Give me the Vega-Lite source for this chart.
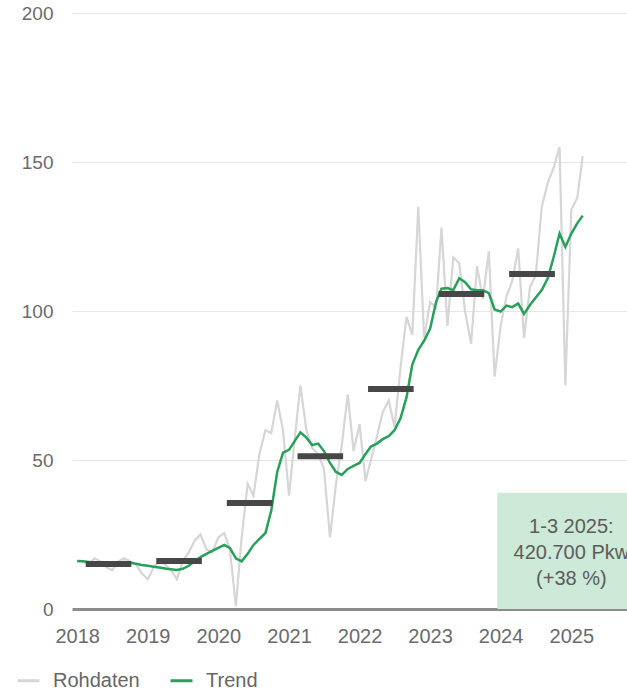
{
  "$schema": "https://vega.github.io/schema/vega-lite/v6.json",
  "width": 555,
  "height": 596,
  "autosize": {"type": "none"},
  "padding": {"left": 72, "top": 13, "right": 0, "bottom": 83},
  "background": "white",
  "config": {
    "view": {"stroke": null},
    "font": "Liberation Sans",
    "axis": {"labelFont": "Liberation Sans", "labelFontSize": 19, "labelColor": "#6b6b6b", "ticks": false, "title": null},
    "axisX": {"domainColor": "#8c8c8c", "domainWidth": 3, "grid": false, "labelPadding": 17, "labelFontSize": 20, "zindex": 1},
    "axisY": {"domain": false, "gridColor": "#e6e6e6", "gridWidth": 1, "labelPadding": 19}
  },
  "datasets": {
    "monthly": [
      {"month": "2018-01-01", "raw": 16, "trend": 16.1},
      {"month": "2018-02-01", "raw": 16, "trend": 16.0},
      {"month": "2018-03-01", "raw": 15, "trend": 15.8},
      {"month": "2018-04-01", "raw": 17, "trend": 15.6},
      {"month": "2018-05-01", "raw": 16, "trend": 15.5},
      {"month": "2018-06-01", "raw": 14, "trend": 15.6},
      {"month": "2018-07-01", "raw": 13, "trend": 15.5},
      {"month": "2018-08-01", "raw": 16, "trend": 15.6},
      {"month": "2018-09-01", "raw": 17, "trend": 15.8},
      {"month": "2018-10-01", "raw": 16, "trend": 15.5},
      {"month": "2018-11-01", "raw": 15, "trend": 15.2},
      {"month": "2018-12-01", "raw": 12, "trend": 14.8},
      {"month": "2019-01-01", "raw": 10, "trend": 14.5},
      {"month": "2019-02-01", "raw": 14, "trend": 14.2},
      {"month": "2019-03-01", "raw": 16, "trend": 13.9},
      {"month": "2019-04-01", "raw": 15, "trend": 13.6},
      {"month": "2019-05-01", "raw": 13, "trend": 13.3},
      {"month": "2019-06-01", "raw": 10, "trend": 13.1},
      {"month": "2019-07-01", "raw": 16, "trend": 13.5},
      {"month": "2019-08-01", "raw": 19, "trend": 14.5},
      {"month": "2019-09-01", "raw": 23, "trend": 16},
      {"month": "2019-10-01", "raw": 25, "trend": 17.4},
      {"month": "2019-11-01", "raw": 20, "trend": 18.5},
      {"month": "2019-12-01", "raw": 19, "trend": 19.5},
      {"month": "2020-01-01", "raw": 24, "trend": 20.5},
      {"month": "2020-02-01", "raw": 25.5, "trend": 21.5},
      {"month": "2020-03-01", "raw": 20, "trend": 20.5},
      {"month": "2020-04-01", "raw": 1, "trend": 17},
      {"month": "2020-05-01", "raw": 24, "trend": 16},
      {"month": "2020-06-01", "raw": 42, "trend": 18.5},
      {"month": "2020-07-01", "raw": 38, "trend": 21.5},
      {"month": "2020-08-01", "raw": 52, "trend": 23.5},
      {"month": "2020-09-01", "raw": 60, "trend": 25.5},
      {"month": "2020-10-01", "raw": 59, "trend": 33},
      {"month": "2020-11-01", "raw": 70, "trend": 46},
      {"month": "2020-12-01", "raw": 60, "trend": 52.5},
      {"month": "2021-01-01", "raw": 38, "trend": 53.4},
      {"month": "2021-02-01", "raw": 58, "trend": 56.5},
      {"month": "2021-03-01", "raw": 75, "trend": 59.3},
      {"month": "2021-04-01", "raw": 60, "trend": 57.5},
      {"month": "2021-05-01", "raw": 54, "trend": 55},
      {"month": "2021-06-01", "raw": 52, "trend": 55.5},
      {"month": "2021-07-01", "raw": 47, "trend": 53},
      {"month": "2021-08-01", "raw": 24, "trend": 49},
      {"month": "2021-09-01", "raw": 42, "trend": 46},
      {"month": "2021-10-01", "raw": 55, "trend": 45},
      {"month": "2021-11-01", "raw": 72, "trend": 47},
      {"month": "2021-12-01", "raw": 53, "trend": 48},
      {"month": "2022-01-01", "raw": 62, "trend": 49},
      {"month": "2022-02-01", "raw": 43, "trend": 52},
      {"month": "2022-03-01", "raw": 50, "trend": 54.5},
      {"month": "2022-04-01", "raw": 58, "trend": 55.5},
      {"month": "2022-05-01", "raw": 66, "trend": 57},
      {"month": "2022-06-01", "raw": 70, "trend": 58},
      {"month": "2022-07-01", "raw": 61, "trend": 60},
      {"month": "2022-08-01", "raw": 81, "trend": 64},
      {"month": "2022-09-01", "raw": 98, "trend": 71},
      {"month": "2022-10-01", "raw": 92, "trend": 82},
      {"month": "2022-11-01", "raw": 135, "trend": 87},
      {"month": "2022-12-01", "raw": 91, "trend": 90},
      {"month": "2023-01-01", "raw": 103, "trend": 94},
      {"month": "2023-02-01", "raw": 101, "trend": 103},
      {"month": "2023-03-01", "raw": 128, "trend": 107.5},
      {"month": "2023-04-01", "raw": 95, "trend": 107.7},
      {"month": "2023-05-01", "raw": 118, "trend": 107},
      {"month": "2023-06-01", "raw": 116, "trend": 111},
      {"month": "2023-07-01", "raw": 100, "trend": 109.7},
      {"month": "2023-08-01", "raw": 89, "trend": 107.3},
      {"month": "2023-09-01", "raw": 115, "trend": 107},
      {"month": "2023-10-01", "raw": 104, "trend": 107},
      {"month": "2023-11-01", "raw": 120, "trend": 106},
      {"month": "2023-12-01", "raw": 78, "trend": 100.5},
      {"month": "2024-01-01", "raw": 95, "trend": 99.8},
      {"month": "2024-02-01", "raw": 105, "trend": 101.8},
      {"month": "2024-03-01", "raw": 110, "trend": 101.3},
      {"month": "2024-04-01", "raw": 121, "trend": 102.5},
      {"month": "2024-05-01", "raw": 91, "trend": 99},
      {"month": "2024-06-01", "raw": 108, "trend": 102},
      {"month": "2024-07-01", "raw": 112, "trend": 104.5},
      {"month": "2024-08-01", "raw": 135, "trend": 107},
      {"month": "2024-09-01", "raw": 143, "trend": 111},
      {"month": "2024-10-01", "raw": 148, "trend": 118},
      {"month": "2024-11-01", "raw": 155, "trend": 126},
      {"month": "2024-12-01", "raw": 75, "trend": 121.5},
      {"month": "2025-01-01", "raw": 134, "trend": 126},
      {"month": "2025-02-01", "raw": 138, "trend": 129.5},
      {"month": "2025-03-01", "raw": 152, "trend": 132}
    ],
    "yearly": [
      {"year": 2018, "start": "2018-02-14", "end": "2018-10-08", "avg": 15.1},
      {"year": 2019, "start": "2019-02-14", "end": "2019-10-08", "avg": 16.1},
      {"year": 2020, "start": "2020-02-14", "end": "2020-10-08", "avg": 35.6},
      {"year": 2021, "start": "2021-02-14", "end": "2021-10-08", "avg": 51.3},
      {"year": 2022, "start": "2022-02-14", "end": "2022-10-08", "avg": 73.8},
      {"year": 2023, "start": "2023-02-14", "end": "2023-10-08", "avg": 105.7},
      {"year": 2024, "start": "2024-02-14", "end": "2024-10-08", "avg": 112.4}
    ],
    "note": [
      {"from": "2023-12-15", "to": "2026-12-31", "top": 39, "mid": "2025-01-01", "labelY": 27.5, "label": ["1-3 2025:", "420.700 Pkw", "(+38 %)"]}
    ]
  },
  "layer": [
    {
      "data": {"name": "note"},
      "mark": {"type": "rect", "color": "#cde9d7", "clip": true},
      "encoding": {
        "x": {"field": "from", "type": "temporal", "scale": {"type": "utc", "domain": [{"year": 2017, "month": 12, "date": 5, "utc": true}, {"year": 2025, "month": 10, "date": 16, "utc": true}]}},
        "x2": {"field": "to"},
        "y": {"field": "top", "type": "quantitative", "scale": {"domain": [0, 200]}},
        "y2": {"datum": 0}
      }
    },
    {
      "data": {"name": "monthly"},
      "mark": {"type": "line", "strokeWidth": 2.2, "clip": true},
      "encoding": {
        "x": {"field": "month", "type": "temporal", "scale": {"type": "utc", "domain": [{"year": 2017, "month": 12, "date": 5, "utc": true}, {"year": 2025, "month": 10, "date": 16, "utc": true}]},
          "axis": {"format": "%Y", "values": [{"year": 2018, "utc": true}, {"year": 2019, "utc": true}, {"year": 2020, "utc": true}, {"year": 2021, "utc": true}, {"year": 2022, "utc": true}, {"year": 2023, "utc": true}, {"year": 2024, "utc": true}, {"year": 2025, "utc": true}]}},
        "y": {"field": "raw", "type": "quantitative", "scale": {"domain": [0, 200]}, "axis": {"values": [0, 50, 100, 150, 200]}},
        "color": {"datum": "Rohdaten", "type": "nominal",
          "scale": {"domain": ["Rohdaten", "Trend"], "range": ["#d6d6d6", "#27a05b"]},
          "legend": {"orient": "none", "legendX": -56, "legendY": 655, "direction": "horizontal", "title": null, "symbolType": "stroke", "symbolSize": 484, "symbolStrokeWidth": 3, "labelFontSize": 20, "labelFont": "Liberation Sans", "labelColor": "#666666", "labelOffset": 12, "columnPadding": 24, "padding": 0}}
      }
    },
    {
      "data": {"name": "monthly"},
      "mark": {"type": "line", "strokeWidth": 2.5, "clip": true},
      "encoding": {
        "x": {"field": "month", "type": "temporal", "scale": {"type": "utc", "domain": [{"year": 2017, "month": 12, "date": 5, "utc": true}, {"year": 2025, "month": 10, "date": 16, "utc": true}]}},
        "y": {"field": "trend", "type": "quantitative", "scale": {"domain": [0, 200]}},
        "color": {"datum": "Trend", "type": "nominal"}
      }
    },
    {
      "data": {"name": "yearly"},
      "mark": {"type": "rule", "strokeWidth": 6, "color": "#474747", "strokeCap": "butt"},
      "encoding": {
        "x": {"field": "start", "type": "temporal", "scale": {"type": "utc", "domain": [{"year": 2017, "month": 12, "date": 5, "utc": true}, {"year": 2025, "month": 10, "date": 16, "utc": true}]}},
        "x2": {"field": "end"},
        "y": {"field": "avg", "type": "quantitative", "scale": {"domain": [0, 200]}}
      }
    },
    {
      "data": {"name": "note"},
      "mark": {"type": "text", "font": "Liberation Sans", "fontSize": 20, "color": "#5c5c5c", "align": "center", "baseline": "middle", "lineHeight": 26, "clip": true},
      "encoding": {
        "x": {"field": "mid", "type": "temporal", "scale": {"type": "utc", "domain": [{"year": 2017, "month": 12, "date": 5, "utc": true}, {"year": 2025, "month": 10, "date": 16, "utc": true}]}},
        "y": {"field": "labelY", "type": "quantitative", "scale": {"domain": [0, 200]}},
        "text": {"field": "label"}
      }
    }
  ]
}
